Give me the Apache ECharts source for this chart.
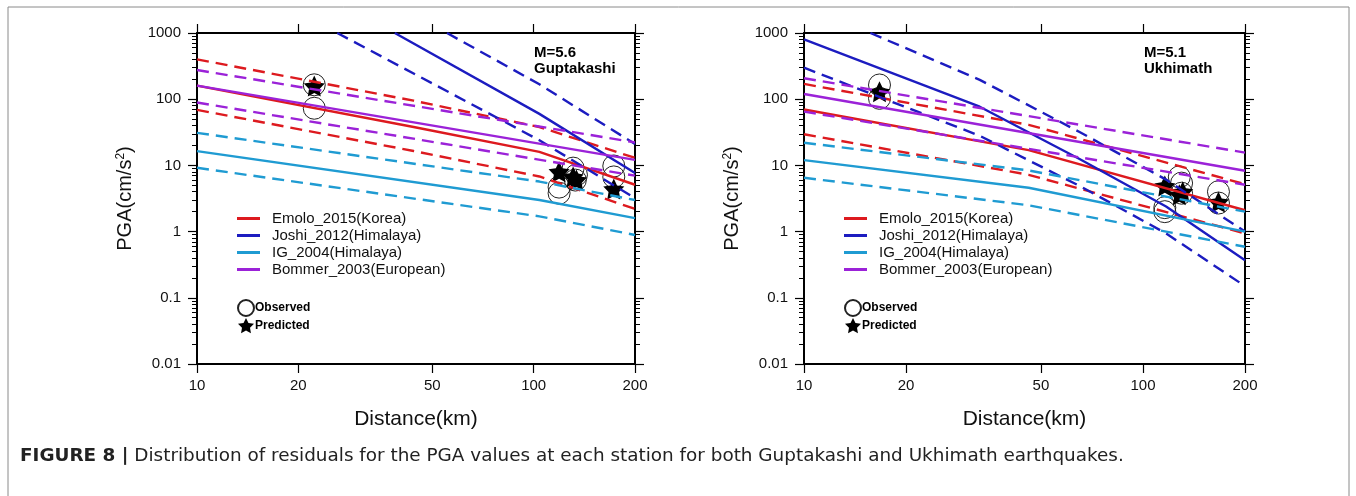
<!DOCTYPE html>
<html>
<head>
<meta charset="utf-8">
<script src="https://cdn.jsdelivr.net/npm/echarts@6/dist/echarts.min.js"></script>
<style>
  html, body { margin: 0; padding: 0; background: #fff; }
  #main { width: 1356px; height: 496px; }
</style>
</head>
<body>
<div id="main"></div>
<script>
// model names
const models = ["Emolo_2015(Korea)", "Joshi_2012(Himalaya)", "IG_2004(Himalaya)", "Bommer_2003(European)"];
const colors = ["#dd1a1f", "#1c1cc0", "#1f9bd2", "#9b22d8"];

// tick values
const xTicks = [10, 20, 50, 100, 200];
const yMinorTicks = [0.02, 0.03, 0.04, 0.05, 0.06, 0.07, 0.08, 0.09,
  0.2, 0.3, 0.4, 0.5, 0.6, 0.7, 0.8, 0.9,
  2, 3, 4, 5, 6, 7, 8, 9,
  20, 30, 40, 50, 60, 70, 80, 90,
  200, 300, 400, 500, 600, 700, 800, 900];

// Guptakashi, M=5.6  -> [distance km, PGA cm/s2]
const gEmolo = [[10, 160], [44, 38], [104, 16], [200, 5.1]];
const gEmoloHi = [[10, 400], [44, 95], [104, 38], [200, 13]];
const gEmoloLo = [[10, 69], [44, 16.5], [104, 6.8], [200, 2.2]];
const gJoshi = [[38.7, 1000], [104, 60], [200, 7.7]];
const gJoshiHi = [[55.3, 1000], [104, 168], [200, 21]];
const gJoshiLo = [[26.1, 1000], [104, 24], [200, 3.2]];
const gIG = [[10, 16.4], [104, 3.0], [200, 1.6]];
const gIGHi = [[10, 31], [104, 5.7], [200, 3.0]];
const gIGLo = [[10, 9.2], [104, 1.7], [200, 0.89]];
const gBommer = [[10, 160], [200, 12.1]];
const gBommerHi = [[10, 276], [200, 22.3]];
const gBommerLo = [[10, 89], [200, 7.0]];
const gObserved = [[22.3, 165], [22.3, 73], [119, 4.7], [119, 3.8], [131, 9.1], [134, 7.2], [133, 6.0], [173, 9.8], [173, 6.7]];
const gPredicted = [[22.3, 158], [119, 8.0], [131, 6.7], [134, 6.0], [173, 4.4]];

// Ukhimath, M=5.1
const uEmolo = [[10, 70], [46, 17], [200, 2.1]];
const uEmoloHi = [[10, 170], [46, 41], [200, 5.2]];
const uEmoloLo = [[10, 29.5], [46, 7.2], [200, 0.94]];
const uJoshi = [[10, 804], [33, 77], [65, 12.5], [117, 2.4], [200, 0.37]];
const uJoshiHi = [[15.7, 1000], [33, 196], [65, 32], [117, 6.1], [200, 1.0]];
const uJoshiLo = [[10, 299], [33, 28], [65, 4.9], [117, 0.94], [200, 0.15]];
const uIG = [[10, 12], [46, 4.6], [200, 1.0]];
const uIGHi = [[10, 22], [46, 8.4], [200, 2.0]];
const uIGLo = [[10, 6.5], [46, 2.5], [200, 0.59]];
const uBommer = [[10, 120], [200, 8.3]];
const uBommerHi = [[10, 207], [200, 15.6]];
const uBommerLo = [[10, 65], [200, 5.1]];
const uObserved = [[16.7, 164], [16.7, 103], [116, 2.0], [116, 2.3], [128, 6.7], [130, 5.4], [130, 3.8], [167, 4.0], [167, 2.7]];
const uPredicted = [[16.7, 130], [116, 4.9], [128, 3.6], [131, 4.0], [167, 2.8]];

const panels = [
  { label: "M=5.6\nGuptakashi", curves: [[gEmolo, gEmoloHi, gEmoloLo], [gJoshi, gJoshiHi, gJoshiLo], [gIG, gIGHi, gIGLo], [gBommer, gBommerHi, gBommerLo]], obs: gObserved, pred: gPredicted },
  { label: "M=5.1\nUkhimath", curves: [[uEmolo, uEmoloHi, uEmoloLo], [uJoshi, uJoshiHi, uJoshiLo], [uIG, uIGHi, uIGLo], [uBommer, uBommerHi, uBommerLo]], obs: uObserved, pred: uPredicted },
];

const FONT = "Liberation Sans, Arial, Helvetica, sans-serif";
const STAR = "path://M0,-10L2.94,-4.05L9.51,-3.09L4.76,1.55L5.88,8.09L0,5L-5.88,8.09L-4.76,1.55L-9.51,-3.09L-2.94,-4.05Z";
const grids = [
  { left: 197, top: 33, width: 438, height: 331 },
  { left: 804, top: 33, width: 441, height: 331 },
];

const axisLine = { show: true, onZero: false, lineStyle: { color: "#000", width: 2 } };
const fmt = (v) => String(parseFloat(Number(v).toPrecision(4)));

const xAxis = [];
const yAxis = [];
const series = [];
const legend = [];
const title = [];

grids.forEach((g, gi) => {
  // bottom + top
  xAxis.push({
    type: "log", gridIndex: gi, min: 10, max: 200, position: "bottom",
    axisLine,
    axisTick: { show: true, length: 9, lineStyle: { color: "#000", width: 1.2 }, customValues: xTicks },
    axisLabel: { show: true, customValues: xTicks, formatter: fmt, fontSize: 15, color: "#111", margin: 14, fontFamily: FONT },
    splitLine: { show: false },
    name: "Distance(km)", nameLocation: "middle", nameGap: 45,
    nameTextStyle: { fontSize: 21, color: "#111", fontFamily: FONT },
  });
  xAxis.push({
    type: "log", gridIndex: gi, min: 10, max: 200, position: "top",
    axisLine,
    axisTick: { show: true, length: 9, lineStyle: { color: "#000", width: 1.2 }, customValues: xTicks },
    axisLabel: { show: false },
    splitLine: { show: false },
  });
  // left major, left minor, right major, right minor
  ["left", "right"].forEach((pos) => {
    yAxis.push({
      type: "log", gridIndex: gi, min: 0.01, max: 1000, position: pos,
      axisLine,
      axisTick: { show: true, length: 9, lineStyle: { color: "#000", width: 1.2 } },
      axisLabel: { show: pos === "left", formatter: fmt, fontSize: 15, color: "#111", margin: 16, fontFamily: FONT },
      splitLine: { show: false },
      name: pos === "left" ? "PGA(cm/s{sup|2})" : "",
      nameLocation: "middle", nameGap: 62,
      nameTextStyle: {
        fontSize: 20, color: "#111", fontFamily: FONT,
        rich: { sup: { fontSize: 12, verticalAlign: "top", color: "#111", fontFamily: FONT } },
      },
    });
    yAxis.push({
      type: "log", gridIndex: gi, min: 0.01, max: 1000, position: pos,
      axisLine: { show: false },
      axisTick: { show: true, length: 5, lineStyle: { color: "#000", width: 1 }, customValues: yMinorTicks },
      axisLabel: { show: false },
      splitLine: { show: false },
    });
  });

  const p = panels[gi];
  p.curves.forEach((set, mi) => {
    set.forEach((data, k) => {
      series.push({
        name: models[mi], type: "line", data, xAxisIndex: gi * 2, yAxisIndex: gi * 4,
        symbol: "none", color: colors[mi], clip: true, silent: true,
        lineStyle: { width: 2.4, type: k === 0 ? "solid" : [12, 7] },
      });
    });
  });
  series.push({
    name: "Observed", type: "scatter", data: p.obs, xAxisIndex: gi * 2, yAxisIndex: gi * 4,
    symbol: "circle", symbolSize: 22, silent: true,
    itemStyle: { color: "rgba(0,0,0,0)", borderColor: "#222", borderWidth: 1, opacity: 1 },
  });
  series.push({
    name: "Predicted", type: "scatter", data: p.pred, xAxisIndex: gi * 2, yAxisIndex: gi * 4,
    symbol: STAR, symbolSize: 21, silent: true,
    itemStyle: { color: "#000", opacity: 1 },
  });

  legend.push({
    orient: "vertical", left: g.left + 40, top: 211, padding: 0, icon: "rect",
    itemWidth: 23, itemHeight: 3, itemGap: 2, selectedMode: false,
    data: models,
    itemStyle: { borderWidth: 0 },
    textStyle: { fontSize: 15, color: "#111", fontFamily: FONT, padding: [0, 0, 0, 7], lineHeight: 15 },
  });
  legend.push({
    orient: "vertical", left: g.left + 40, top: 299, padding: 0, itemWidth: 16, itemHeight: 16, itemGap: 1,
    selectedMode: false,
    data: [{ name: "Observed" }, { name: "Predicted", icon: STAR }],
    itemStyle: { opacity: 1 },
    textStyle: { fontSize: 12, fontWeight: "bold", color: "#000", fontFamily: FONT, padding: [0, 0, 0, -4] },
  });
  title.push({
    text: p.label, left: g.left + g.width - 101, top: 45, padding: 0,
    textStyle: { fontSize: 15, fontWeight: "bold", color: "#000", fontFamily: FONT, lineHeight: 16 },
  });
});

const chart = echarts.init(document.getElementById("main"));
chart.setOption({
  animation: false,
  backgroundColor: "#fff",
  grid: grids,
  xAxis,
  yAxis,
  series,
  legend,
  title,
  graphic: [
    {
      type: "rect", x: 8, y: 7, silent: true,
      shape: { x: 0, y: 0, width: 1341, height: 520 },
      style: { fill: "none", stroke: "#8a8a8a", lineWidth: 1 },
    },
    {
      type: "text", x: 20, y: 447, silent: true,
      style: {
        text: "{b|FIGURE 8 |} Distribution of residuals for the PGA values at each station for both Guptakashi and Ukhimath earthquakes.",
        fontSize: 18.4, fontFamily: "DejaVu Sans, sans-serif", fill: "#222",
        rich: { b: { fontSize: 18.4, fontWeight: "bold", fontFamily: "DejaVu Sans, sans-serif", fill: "#222" } },
      },
    },
  ],
});

window.addEventListener("resize", () => {
  chart.resize();
});
</script>
</body>
</html>
